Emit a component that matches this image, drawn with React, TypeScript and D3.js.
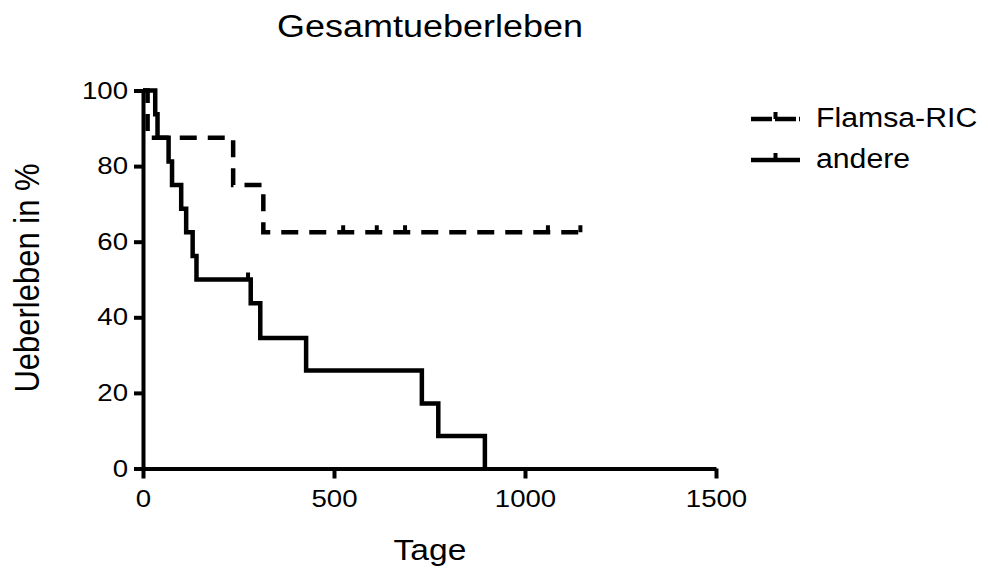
import React, { useEffect, useRef } from 'react';
import * as d3 from 'd3';

const title = 'Gesamtueberleben';
const xLabel = 'Tage';
const yLabel = 'Ueberleben in %';
const seriesNames = ['Flamsa-RIC', 'andere'];

// Kaplan-Meier steps: event times (days) and survival (%) after each event
const flamsaTimes = [0, 12, 236, 315, 1150];
const flamsaSurv = [100, 87.5, 75, 62.5, 62.5];
const flamsaCensored = [524, 612, 686, 1060, 1145];

const andereTimes = [0, 32, 38, 67, 76, 100, 113, 130, 140, 282, 307, 427, 730, 773, 895];
const andereSurv = [100, 93.75, 87.5, 81.25, 75, 68.75, 62.5, 56.25, 50, 43.75, 34.5, 25.9, 17.2, 8.6, 0];
const andereCensored = [275];

const xTicks = [0, 500, 1000, 1500];
const yTicks = [0, 20, 40, 60, 80, 100];

const font = '"Liberation Sans", Arial, Helvetica, sans-serif';

const drawChart = (node: SVGSVGElement) => {
  const width = 988;
  const height = 571;
  const svg = d3.select(node).attr('width', width).attr('height', height);
  svg.selectAll('*').remove();

  const x = d3.scaleLinear().domain([0, 1500]).range([143, 716]);
  const y = d3.scaleLinear().domain([0, 100]).range([468.5, 90.5]);

  // axes
  const gx = svg.append('g')
    .attr('transform', `translate(0,${y(0)})`)
    .call(d3.axisBottom(x).tickValues(xTicks).tickSize(10).tickSizeOuter(0).tickPadding(11).tickFormat(d3.format('d')));
  const gy = svg.append('g')
    .attr('transform', `translate(${x(0)},0)`)
    .call(d3.axisLeft(y).tickValues(yTicks).tickSize(9).tickSizeOuter(0).tickFormat(d3.format('d')));

  [gx, gy].forEach(g => {
    g.select('.domain').attr('stroke', '#000').attr('stroke-width', 4);
    g.selectAll('.tick line').attr('stroke', '#000').attr('stroke-width', 4);
    g.selectAll('.tick text')
      .attr('fill', '#000')
      .attr('font-family', font)
      .attr('font-size', 24);
  });
  gx.selectAll('.tick text').attr('transform', 'scale(1.15,1)');
  gy.selectAll('.tick text').attr('x', -15 / 1.15).attr('transform', 'scale(1.15,1)');

  const line = d3.line<[number, number]>()
    .x(d => x(d[0]))
    .y(d => y(d[1]))
    .curve(d3.curveStepAfter);

  const series = [
    { times: flamsaTimes, surv: flamsaSurv, censored: flamsaCensored, dash: '17 11' },
    { times: andereTimes, surv: andereSurv, censored: andereCensored, dash: null }
  ];

  series.forEach(s => {
    const pts: [number, number][] = s.times.map((t, i) => [t, s.surv[i]]);
    svg.append('path')
      .attr('d', line(pts))
      .attr('fill', 'none')
      .attr('stroke', '#000')
      .attr('stroke-width', 4.5)
      .attr('stroke-dasharray', s.dash);

    const survAt = (t: number) => {
      let v = s.surv[0];
      s.times.forEach((tt, i) => { if (tt <= t) v = s.surv[i]; });
      return v;
    };
    svg.selectAll(null)
      .data(s.censored)
      .enter()
      .append('line')
      .attr('x1', d => x(d))
      .attr('x2', d => x(d))
      .attr('y1', d => y(survAt(d)))
      .attr('y2', d => y(survAt(d)) - 7)
      .attr('stroke', '#000')
      .attr('stroke-width', 4);
  });

  // texts
  svg.append('text')
    .attr('transform', 'translate(430,37) scale(1.16,1)')
    .attr('text-anchor', 'middle')
    .attr('font-family', font)
    .attr('font-size', 31)
    .text(title);

  svg.append('text')
    .attr('transform', 'translate(430,560) scale(1.12,1)')
    .attr('text-anchor', 'middle')
    .attr('font-family', font)
    .attr('font-size', 30)
    .text(xLabel);

  svg.append('text')
    .attr('transform', 'translate(39,278) scale(1.16,1) rotate(-90)')
    .attr('text-anchor', 'middle')
    .attr('font-family', font)
    .attr('font-size', 31)
    .text(yLabel);

  // legend
  const legend = svg.append('g');
  const rows = [
    { name: seriesNames[0], y: 119, dash: '21 3' },
    { name: seriesNames[1], y: 160, dash: null }
  ];
  rows.forEach(r => {
    legend.append('line')
      .attr('x1', 751).attr('x2', 800)
      .attr('y1', r.y).attr('y2', r.y)
      .attr('stroke', '#000')
      .attr('stroke-width', 4.5)
      .attr('stroke-dasharray', r.dash);
    legend.append('line')
      .attr('x1', 775.5).attr('x2', 775.5)
      .attr('y1', r.y).attr('y2', r.y - 7)
      .attr('stroke', '#000')
      .attr('stroke-width', 4);
    legend.append('text')
      .attr('transform', `translate(816,${r.y + 8}) scale(1.12,1)`)
      .attr('font-family', font)
      .attr('font-size', 27)
      .text(r.name);
  });
};

export default function App() {
  const ref = useRef<SVGSVGElement>(null);
  useEffect(() => {
    if (ref.current) drawChart(ref.current);
  }, []);
  return (
    <div style={{ position: 'absolute', left: 0, top: 0, background: '#fff' }}>
      <svg ref={ref} style={{ display: 'block' }} />
    </div>
  );
}
